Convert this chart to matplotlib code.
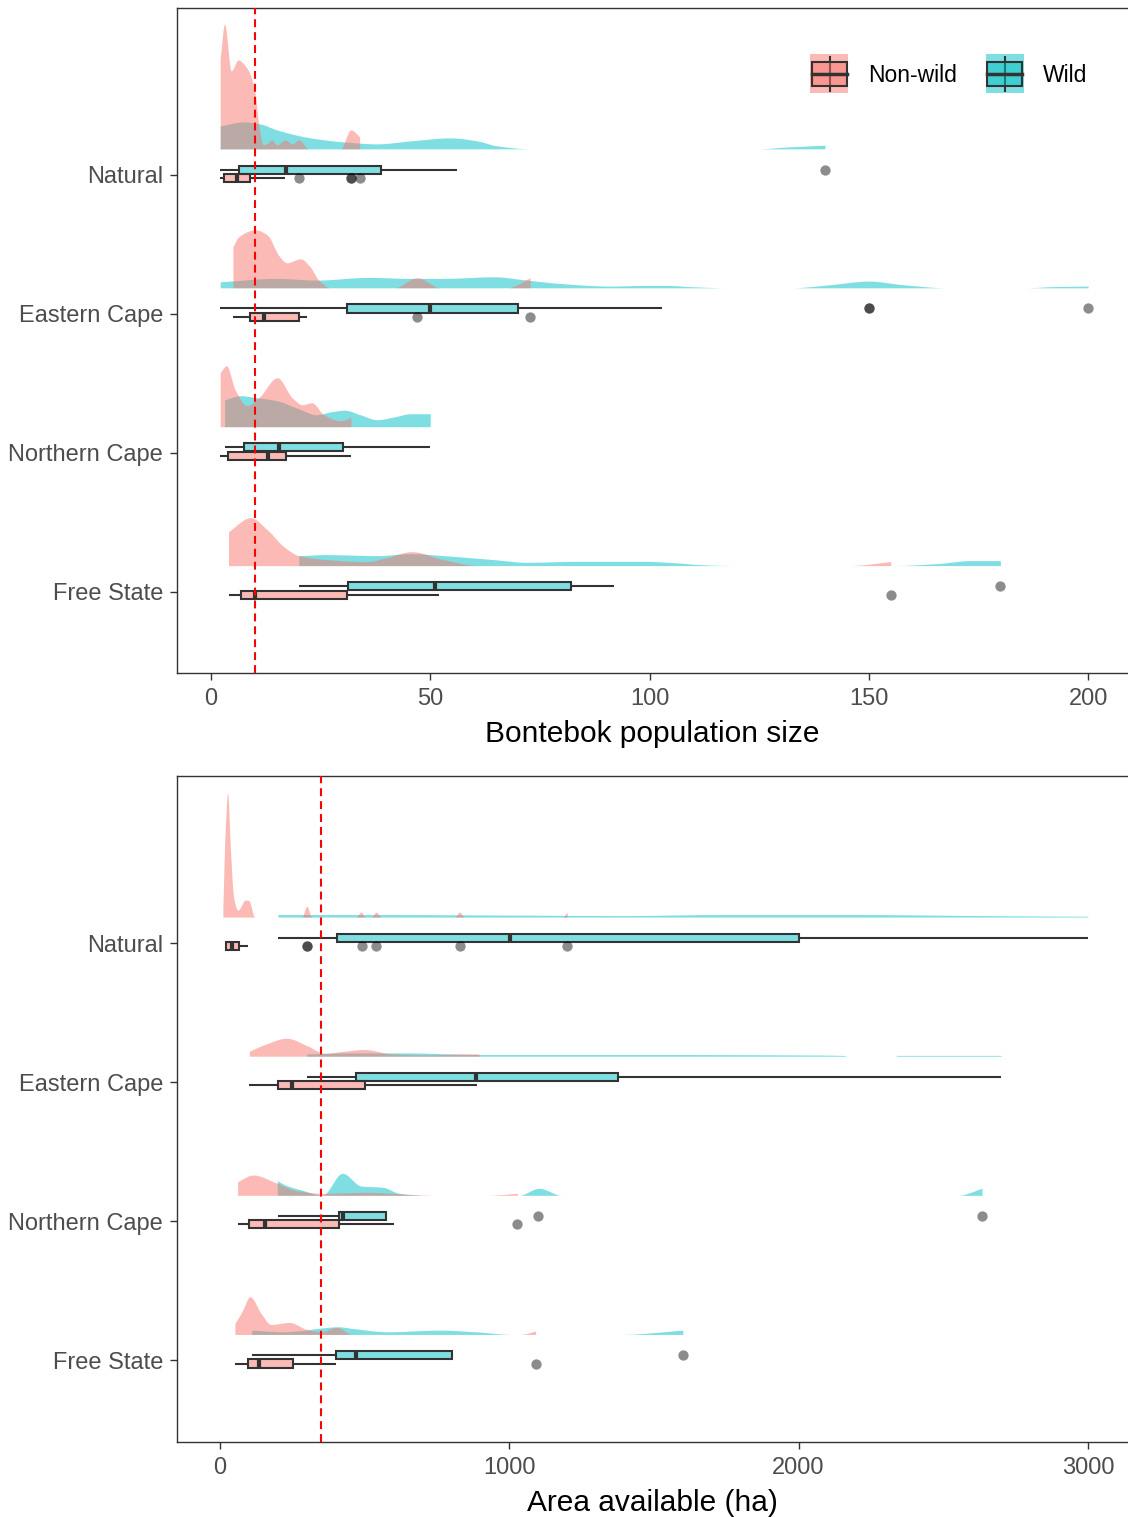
import numpy as np
import matplotlib
matplotlib.use("Agg")
import matplotlib.pyplot as plt
from matplotlib.patches import Rectangle
from matplotlib.colors import to_rgba

plt.rcParams["font.family"] = ["Liberation Sans", "DejaVu Sans"]

# categories, top to bottom
cats = ["Natural", "Eastern Cape", "Northern Cape", "Free State"]
NW_COL = "#F8766D"
W_COL = "#00BFC4"

# ---- population size (top panel) ----
# density outlines: (value, relative height)
pop_dens_nw = [
    [(2.1, 91), (3.1, 125), (4.6, 78), (6.2, 89), (7.8, 83), (9.0, 74), (10.1, 54), (10.9, 24),
     (11.9, 4), (13.0, 6), (13.9, 9), (15.0, 4), (17.0, 9), (18.5, 5), (20.0, 9), (22.3, 0),
     (29.5, 0), (31.9, 19), (33.9, 12)],
    [(5.0, 41), (6.3, 51), (10.1, 58), (12.8, 53), (15.5, 32), (17.3, 25), (20.4, 29), (22.6, 21),
     (24.5, 8), (27.2, 0), (41.7, 0), (47.0, 10), (52.3, 0), (67.5, 0), (72.8, 10)],
    [(2.1, 54), (3.5, 61), (5.5, 37), (8.2, 21), (10.9, 29), (15.1, 49), (18.5, 29), (20.8, 22),
     (23.0, 24), (25.7, 12), (29.5, 6), (31.9, 9)],
    [(4.0, 34), (9.0, 48), (12.8, 36), (16.6, 19), (20.0, 10), (26.5, 6), (35.6, 4), (40.0, 8),
     (45.8, 14), (53.0, 6), (61.4, 0), (145.3, 0), (155.0, 4)],
]
pop_dens_w = [
    [(2.1, 23), (7.5, 27), (11.2, 25), (15.0, 19), (22.7, 11), (30.3, 7), (37.9, 5), (45.5, 8),
     (54.6, 11), (60.7, 8), (65.2, 3), (73.2, 0), (124.6, 0), (130.0, 1.5), (140.0, 3.7)],
    [(2.1, 6), (15.0, 9.4), (24.2, 7.7), (35.6, 10.4), (45.5, 9.4), (53.0, 9.4), (64.5, 11),
     (72.0, 7.7), (79.7, 4.3), (91.0, 1.7), (98.7, 2.3), (104.0, 2.3), (110.0, 1), (117.6, 0),
     (132.2, 0), (141.0, 3), (149.9, 6.7), (158.0, 3), (167.8, 0), (185.6, 0), (192.0, 1.2),
     (200.0, 1.7)],
    [(3.1, 27), (6.7, 31), (10.5, 29), (15.0, 26), (20.0, 18), (24.0, 12), (27.5, 15), (30.5, 16.5),
     (34.0, 12), (37.9, 7), (42.0, 10), (45.5, 13), (50.0, 13)],
    [(20.0, 10), (26.5, 11), (37.9, 10), (45.5, 12), (53.0, 10), (64.5, 6), (72.0, 3.3), (83.5, 4.3),
     (98.7, 4.3), (106.3, 2.7), (111.5, 1), (119.8, 0), (155.0, 0), (165.5, 2), (173.2, 5),
     (180.0, 5)],
]
# box stats: lower whisker, q1, median, q3, upper whisker
pop_box_nw = [(2.1, 2.9, 5.9, 9.0, 16.8), (5.0, 9.0, 12.0, 20.0, 21.9),
              (2.1, 3.9, 12.9, 17.2, 31.9), (4.0, 6.9, 10.0, 31.0, 51.9)]
pop_box_w = [(2.1, 6.5, 17.0, 38.8, 56.1), (2.1, 30.9, 50.0, 69.9, 102.9),
             (3.1, 7.5, 15.4, 30.0, 50.0), (20.1, 31.2, 51.0, 82.1, 92.0)]
pop_out_nw = [[20, 31.9, 31.9, 33.9], [47, 72.8], [], [155]]
pop_out_w = [[140], [150, 150, 200], [], [180]]
pop_ref = 10

# ---- area available (bottom panel) ----
area_dens_nw = [
    [(10, 10), (18, 87), (26.5, 124), (35.7, 70), (47, 20), (62, 7), (87.6, 17), (99, 16.7),
     (120, 0), (283, 0), (300, 10.7), (317, 0), (470, 0), (487, 5), (504, 0), (523, 0),
     (540, 5), (557, 0), (811, 0), (828, 5), (845, 0), (1183, 0), (1200, 5)],
    [(101.6, 5), (160, 12.3), (230, 18), (300, 10.7), (361, 3), (430, 5), (500, 6.7), (593, 2.3),
     (717, 1.3), (841, 2.3), (895, 2.3)],
    [(61, 13.7), (114, 20.3), (198, 12), (263, 4.7), (357, 2), (507, 3), (638, 1.3), (713, 0.3),
     (750, 0), (919, 0), (1028, 2)],
    [(51.5, 11), (75.7, 22.7), (103.7, 37.7), (142, 21), (176, 10), (240, 12), (300, 5),
     (349, 2.7), (403, 7), (458, 0), (1034, 0), (1091, 3.3)],
]
area_dens_w = [
    [(200, 2.5), (600, 2.5), (1000, 2), (1400, 1.5), (1709, 2.5), (2221, 2.5), (2623, 1.5),
     (3000, 0.8)],
    [(300, 2.3), (460, 3.3), (640, 3.3), (900, 1.7), (1540, 1.7), (1985, 1.3), (2160, 0.7),
     (2165, 0), (2335, 0), (2340, 0.8), (2700, 0.8)],
    [(198, 14.7), (226, 10.3), (282, 5.3), (354, 0.3), (423, 22), (488, 9.3), (563, 8), (619, 2),
     (675, 0.3), (700, 0), (1032, 0), (1103, 7), (1181, 0), (2549, 0), (2634, 7)],
    [(109.6, 4.3), (215, 2.7), (276, 3.7), (337, 6), (409, 7.7), (458, 6), (579, 2.7), (761, 4.3),
     (882, 2.7), (1016, 0), (1382, 0), (1600, 4.3)],
]
area_box_nw = [(16, 22, 40, 64.5, 97), (100, 199, 250, 500, 890),
               (61, 99, 157, 413, 601), (52, 97.5, 134, 252, 400)]
area_box_w = [(200, 404, 1001, 2000, 3000), (300, 470, 885, 1375, 2700),
              (200, 413, 425, 573, 573), (110, 400, 470, 801, 801)]
area_out_nw = [[300, 300, 490, 540, 830, 1200], [], [1028], [1091]]
area_out_w = [[], [], [1099, 2634], [1600]]
area_ref = 350

DENS_SCALE = 1 / 139.0
EDGE = "#333333"


def smooth_outline(dens, n=16):
    # monotone cubic (pchip-style) curve through the read-off outline points
    x = np.array([d[0] for d in dens], dtype=float)
    y = np.array([d[1] for d in dens], dtype=float)
    hk = np.diff(x)
    dk = np.diff(y) / hk
    m = np.zeros_like(y)
    m[0], m[-1] = dk[0], dk[-1]
    for k in range(1, len(x) - 1):
        if dk[k - 1] * dk[k] > 0:
            w1 = 2 * hk[k] + hk[k - 1]
            w2 = hk[k] + 2 * hk[k - 1]
            m[k] = (w1 + w2) / (w1 / dk[k - 1] + w2 / dk[k])
    xs, ys = [], []
    t = np.linspace(0, 1, n, endpoint=False)
    for k in range(len(x) - 1):
        h00 = 2 * t ** 3 - 3 * t ** 2 + 1
        h10 = t ** 3 - 2 * t ** 2 + t
        h01 = -2 * t ** 3 + 3 * t ** 2
        h11 = t ** 3 - t ** 2
        xs.extend(x[k] + t * hk[k])
        ys.extend(h00 * y[k] + h10 * hk[k] * m[k] + h01 * y[k + 1] + h11 * hk[k] * m[k + 1])
    xs.append(x[-1])
    ys.append(y[-1])
    return np.array(xs), np.clip(np.array(ys), 0, None)


def draw_box(ax, stats, yc, col):
    lo, q1, med, q3, hi = stats
    h = 0.058
    ax.plot([lo, q1], [yc, yc], color=EDGE, lw=1.5, zorder=4, solid_capstyle="butt")
    ax.plot([q3, hi], [yc, yc], color=EDGE, lw=1.5, zorder=4, solid_capstyle="butt")
    ax.add_patch(Rectangle((q1, yc - h / 2), q3 - q1, h, facecolor=to_rgba(col, 0.5),
                           edgecolor=EDGE, lw=1.5, zorder=5))
    ax.plot([med, med], [yc - h / 2, yc + h / 2], color=EDGE, lw=3, zorder=6,
            solid_capstyle="butt")


def draw_panel(ax, dens_nw, dens_w, box_nw, box_w, out_nw, out_w, ref, xlim, xticks, xlabel):
    for i, cat in enumerate(cats):
        pos = len(cats) - i
        base = pos + 0.187
        for dens, col in ((dens_w[i], W_COL), (dens_nw[i], NW_COL)):
            xs, hs = smooth_outline(dens)
            ax.fill_between(xs, base, base + hs * DENS_SCALE, color=col, alpha=0.5, lw=0, zorder=2)
        yw = pos + 0.038
        ynw = pos - 0.022
        draw_box(ax, box_w[i], yw, W_COL)
        draw_box(ax, box_nw[i], ynw, NW_COL)
        if out_w[i]:
            ax.scatter(out_w[i], [yw] * len(out_w[i]), s=55, color="black", alpha=0.45, lw=0, zorder=7)
        if out_nw[i]:
            ax.scatter(out_nw[i], [ynw] * len(out_nw[i]), s=55, color="black", alpha=0.45, lw=0, zorder=7)
    ax.axvline(ref, color="red", lw=1.5, ls=(0, (3.8, 2.4)), zorder=8)
    ax.set_xlim(*xlim)
    ax.set_ylim(0.414, 5.201)
    ax.set_yticks(range(len(cats), 0, -1))
    ax.set_yticklabels(cats)
    ax.set_xticks(xticks)
    ax.set_xlabel(xlabel, fontsize=21.5, labelpad=7.5)
    ax.tick_params(direction="out", length=5, width=1, color=EDGE, labelsize=17,
                   labelcolor="#4D4D4D")
    ax.tick_params(axis="x", pad=5.5)
    ax.tick_params(axis="y", pad=5)
    for s in ax.spines.values():
        s.set_color(EDGE)
        s.set_linewidth(1)
    ax.spines["right"].set_visible(False)


fig = plt.figure(figsize=(11.28, 15.17), dpi=100)
W, H = 1128.0, 1517.0
ax1 = fig.add_axes([177 / W, 1 - 673 / H, 951 / W, 665 / H])
ax2 = fig.add_axes([177 / W, 1 - 1442 / H, 951 / W, 666 / H])

draw_panel(ax1, pop_dens_nw, pop_dens_w, pop_box_nw, pop_box_w, pop_out_nw, pop_out_w,
           pop_ref, (-7.75, 209.1), [0, 50, 100, 150, 200], "Bontebok population size")
draw_panel(ax2, area_dens_nw, area_dens_w, area_box_nw, area_box_w, area_out_nw, area_out_w,
           area_ref, (-148.6, 3138.6), [0, 1000, 2000, 3000], "Area available (ha)")

# legend drawn in pixel space
lg = fig.add_axes([0, 0, 1, 1], facecolor="none")
lg.set_xlim(0, W)
lg.set_ylim(H, 0)
lg.axis("off")
for x0, col, lab in ((810.4, NW_COL, "Non-wild"), (985.5, W_COL, "Wild")):
    lg.add_patch(Rectangle((x0, 54), 38, 39, facecolor=to_rgba(col, 0.5), lw=0))
    lg.plot([x0 + 19.5, x0 + 19.5], [56.5, 91], color=EDGE, lw=1.5)
    lg.add_patch(Rectangle((x0 + 1.5, 61.5), 35, 24, facecolor=to_rgba(col, 0.5),
                           edgecolor=EDGE, lw=1.5, zorder=3))
    lg.plot([x0 + 1.5, x0 + 36.5], [73.5, 73.5], color=EDGE, lw=2.5, zorder=4)
    lg.text(x0 + 57.5, 75, lab, fontsize=16.5, va="center", ha="left", color="black")

fig.savefig("out.png", dpi=100)
